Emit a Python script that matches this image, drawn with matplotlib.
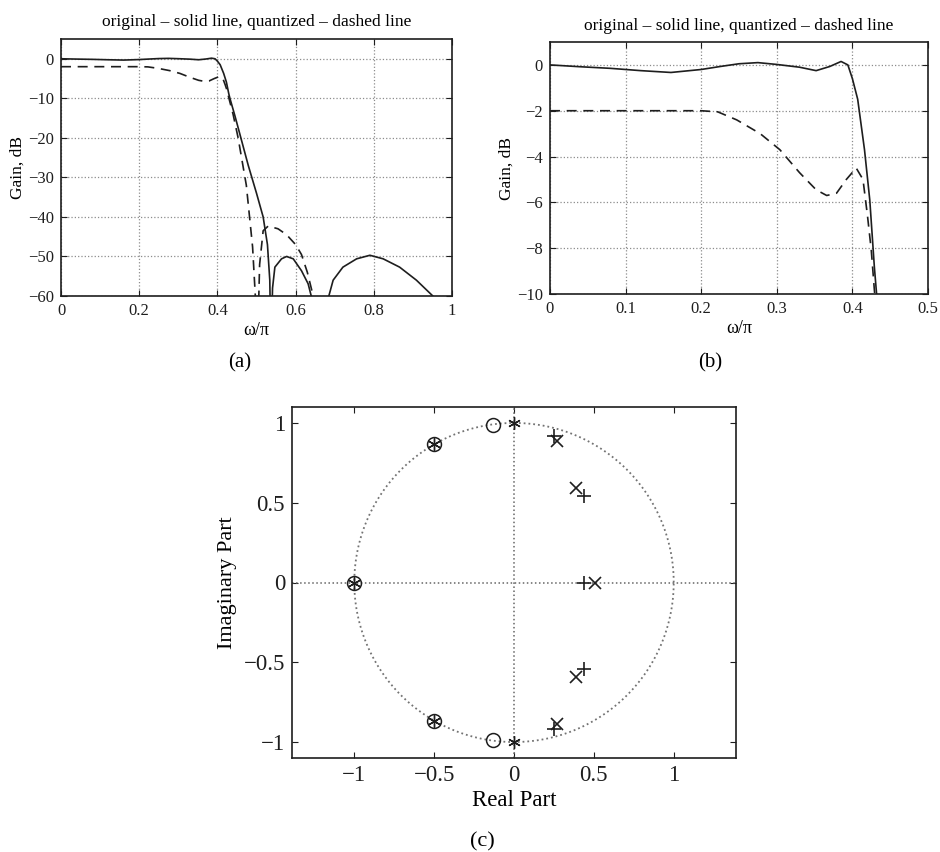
import numpy as np
import matplotlib.pyplot as plt

plt.rcParams['font.family'] = ['Liberation Serif', 'DejaVu Serif']

# gain responses (w in units of pi, gain in dB)
w_orig = [0, 0.04, 0.08, 0.12, 0.16, 0.2, 0.225, 0.25, 0.275, 0.3, 0.33, 0.352,
          0.37, 0.385, 0.394, 0.4, 0.407, 0.416, 0.423, 0.429, 0.432, 0.445, 0.46,
          0.479, 0.5, 0.517, 0.528, 0.534, 0.537, 0.541, 0.547, 0.564, 0.577,
          0.594, 0.615, 0.632, 0.64, 0.65, 0.665, 0.68, 0.685, 0.696, 0.721,
          0.756, 0.79, 0.824, 0.866, 0.909, 0.951, 0.97, 1.0]
gain_orig = [0, -0.08, -0.15, -0.25, -0.33, -0.2, -0.07, 0.05, 0.1, 0.02, -0.1, -0.25,
             -0.07, 0.15, 0, -0.6, -1.5, -3.7, -5.9, -8.8, -10, -14.5, -20,
             -27, -34, -40, -47, -56, -75, -58, -52.7, -50.6, -50,
             -50.6, -53.6, -56.9, -60, -68, -80, -66, -60, -56, -52.7,
             -50.6, -49.7, -50.6, -52.7, -56, -60, -66, -75]

w_quant = [0, 0.05, 0.1, 0.15, 0.2, 0.222, 0.247, 0.278, 0.304, 0.33, 0.352, 0.366,
           0.379, 0.392, 0.405, 0.414, 0.42, 0.425, 0.429, 0.44, 0.453, 0.474, 0.49,
           0.497, 0.502, 0.508, 0.517, 0.53, 0.555, 0.577, 0.6, 0.615, 0.63, 0.645,
           0.66]
gain_quant = [-2, -2, -2, -2, -2, -2.05, -2.4, -3.0, -3.7, -4.7, -5.45, -5.7,
              -5.6, -5.0, -4.5, -5.0, -6.6, -8.1, -9.8, -14, -20, -32, -47.6,
              -60, -75, -52, -43.5, -42.3, -43, -44.5, -47, -49.5, -54, -60,
              -75]

# pole-zero locations
zeros_orig_re = [-1, -0.5, -0.5, -0.13, -0.13]
zeros_orig_im = [0, 0.866, -0.866, 0.99, -0.99]
poles_orig_re = [0.27, 0.27, 0.39, 0.39, 0.51]
poles_orig_im = [0.89, -0.89, 0.59, -0.59, 0]
zeros_quant_re = [-1, -0.5, -0.5, 0, 0]
zeros_quant_im = [0, 0.866, -0.866, 1.0, -1.0]
poles_quant_re = [0.25, 0.25, 0.44, 0.44, 0.44]
poles_quant_im = [0.92, -0.92, 0.54, -0.54, 0]

title = 'original \u2013 solid line, quantized \u2013 dashed line'
ink = '#1e1e1e'

W, H = 940, 852
fig = plt.figure(figsize=(W / 100, H / 100), dpi=100)


def box(l, t, r, b):
    return [l / W, 1 - b / H, (r - l) / W, (b - t) / H]


def style(ax, size):
    ax.tick_params(direction='in', top=True, right=True, length=4,
                   width=0.8, labelsize=size, colors=ink, pad=5)
    for s in ax.spines.values():
        s.set_linewidth(1.2)
        s.set_color(ink)


def gain_plot(ax, xlim, ylim, xticks, yticks):
    ax.plot(w_orig, gain_orig, color=ink, lw=1.2)
    ax.plot(w_quant, gain_quant, color=ink, lw=1.2, dashes=(6, 4))
    ax.set_xlim(*xlim)
    ax.set_ylim(*ylim)
    ax.set_xticks(xticks)
    ax.set_yticks(yticks)
    ax.grid(True, linestyle=':', color='0.55', lw=0.9)
    ax.set_title(title, fontsize=12.5, pad=9)
    ax.set_xlabel('\u03c9/\u03c0', fontsize=13, labelpad=2)
    ax.set_ylabel('Gain, dB', fontsize=12.5, labelpad=2)
    style(ax, 12)


ax_a = fig.add_axes(box(61, 39, 452, 296))
gain_plot(ax_a, (0, 1), (-60, 5), [0, 0.2, 0.4, 0.6, 0.8, 1],
          [0, -10, -20, -30, -40, -50, -60])
ax_a.set_xticklabels(['0', '0.2', '0.4', '0.6', '0.8', '1'])

ax_b = fig.add_axes(box(550, 42, 928, 294))
gain_plot(ax_b, (0, 0.5), (-10, 1), [0, 0.1, 0.2, 0.3, 0.4, 0.5],
          [0, -2, -4, -6, -8, -10])
ax_b.set_xticklabels(['0', '0.1', '0.2', '0.3', '0.4', '0.5'])

fig.text(240 / W, 1 - 363 / H, '(a)', ha='center', va='center', fontsize=15)
fig.text(710 / W, 1 - 363 / H, '(b)', ha='center', va='center', fontsize=15)

# (c) pole-zero plot
ax_c = fig.add_axes(box(292, 407, 736, 758))
t = np.linspace(0, 2 * np.pi, 400)
ax_c.plot(np.cos(t), np.sin(t), linestyle=':', lw=1.3, color='0.45')
ax_c.axhline(0, color='0.4', linestyle=':', lw=1.1)
ax_c.axvline(0, color='0.4', linestyle=':', lw=1.1)
ax_c.plot(zeros_orig_re, zeros_orig_im, 'o', ms=10, mfc='none', mec=ink, mew=1.1)
ax_c.plot(poles_orig_re, poles_orig_im, 'x', ms=9, color=ink, mew=1.2)
ax_c.plot(zeros_quant_re, zeros_quant_im, marker=(6, 2, 0), linestyle='none',
          ms=9, color=ink, mew=1.0)
ax_c.plot(poles_quant_re, poles_quant_im, '+', ms=10, color=ink, mew=1.2)
ax_c.set_xlim(-1.39, 1.39)
ax_c.set_ylim(-1.1, 1.1)
ax_c.set_xticks([-1, -0.5, 0, 0.5, 1])
ax_c.set_yticks([-1, -0.5, 0, 0.5, 1])
ax_c.set_xticklabels(['\u22121', '\u22120.5', '0', '0.5', '1'])
ax_c.set_yticklabels(['\u22121', '\u22120.5', '0', '0.5', '1'])
ax_c.set_xlabel('Real Part', fontsize=16.5, labelpad=3)
ax_c.set_ylabel('Imaginary Part', fontsize=16, labelpad=5)
style(ax_c, 16.5)

fig.text(482 / W, 1 - 842 / H, '(c)', ha='center', va='center', fontsize=16)

fig.savefig('out.png', dpi=100)
